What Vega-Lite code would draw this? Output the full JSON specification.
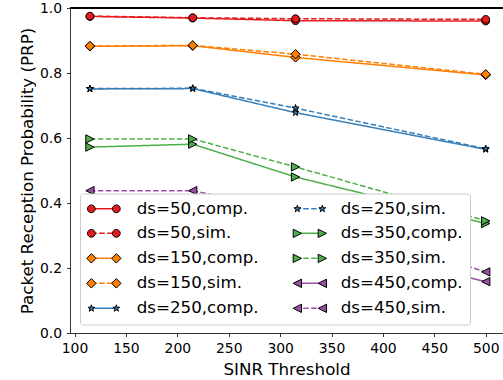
{
  "$schema": "https://vega.github.io/schema/vega-lite/v6.json",
  "width": 433,
  "height": 325,
  "autosize": {"type": "none"},
  "padding": {"left": 70, "top": 8, "right": 0, "bottom": 47},
  "background": "white",
  "config": {
    "view": {"stroke": null},
    "font": "DejaVu Sans",
    "axis": {
      "labelFont": "DejaVu Sans", "labelFontSize": 13.9, "labelColor": "black",
      "titleFont": "DejaVu Sans", "titleFontSize": 16.7, "titleFontWeight": "normal", "titleColor": "black",
      "tickColor": "black", "domainColor": "black", "tickSize": 3.5, "tickWidth": 0.8, "domainWidth": 0.8,
      "grid": false, "labelPadding": 4.9, "labelFlush": false
    }
  },
  "data": {"values": [
    {"series": "ds=50,comp.", "x": 115, "y": 0.974}, {"series": "ds=50,comp.", "x": 215, "y": 0.969}, {"series": "ds=50,comp.", "x": 315, "y": 0.961}, {"series": "ds=50,comp.", "x": 500, "y": 0.960},
    {"series": "ds=50,sim.", "x": 115, "y": 0.975}, {"series": "ds=50,sim.", "x": 215, "y": 0.970}, {"series": "ds=50,sim.", "x": 315, "y": 0.967}, {"series": "ds=50,sim.", "x": 500, "y": 0.965},
    {"series": "ds=150,comp.", "x": 115, "y": 0.882}, {"series": "ds=150,comp.", "x": 215, "y": 0.884}, {"series": "ds=150,comp.", "x": 315, "y": 0.848}, {"series": "ds=150,comp.", "x": 500, "y": 0.794},
    {"series": "ds=150,sim.", "x": 115, "y": 0.883}, {"series": "ds=150,sim.", "x": 215, "y": 0.885}, {"series": "ds=150,sim.", "x": 315, "y": 0.858}, {"series": "ds=150,sim.", "x": 500, "y": 0.796},
    {"series": "ds=250,comp.", "x": 115, "y": 0.751}, {"series": "ds=250,comp.", "x": 215, "y": 0.752}, {"series": "ds=250,comp.", "x": 315, "y": 0.678}, {"series": "ds=250,comp.", "x": 500, "y": 0.565},
    {"series": "ds=250,sim.", "x": 115, "y": 0.752}, {"series": "ds=250,sim.", "x": 215, "y": 0.753}, {"series": "ds=250,sim.", "x": 315, "y": 0.692}, {"series": "ds=250,sim.", "x": 500, "y": 0.567},
    {"series": "ds=350,comp.", "x": 115, "y": 0.572}, {"series": "ds=350,comp.", "x": 215, "y": 0.581}, {"series": "ds=350,comp.", "x": 315, "y": 0.480}, {"series": "ds=350,comp.", "x": 500, "y": 0.337},
    {"series": "ds=350,sim.", "x": 115, "y": 0.597}, {"series": "ds=350,sim.", "x": 215, "y": 0.597}, {"series": "ds=350,sim.", "x": 315, "y": 0.511}, {"series": "ds=350,sim.", "x": 500, "y": 0.345},
    {"series": "ds=450,comp.", "x": 115, "y": 0.405}, {"series": "ds=450,comp.", "x": 215, "y": 0.410}, {"series": "ds=450,comp.", "x": 315, "y": 0.300}, {"series": "ds=450,comp.", "x": 500, "y": 0.158},
    {"series": "ds=450,sim.", "x": 115, "y": 0.438}, {"series": "ds=450,sim.", "x": 215, "y": 0.438}, {"series": "ds=450,sim.", "x": 315, "y": 0.370}, {"series": "ds=450,sim.", "x": 500, "y": 0.188}
  ]},
  "encoding": {
    "x": {"field": "x", "type": "quantitative", "scale": {"domain": [95.6, 516.8], "nice": false, "zero": false},
      "axis": {"values": [100, 150, 200, 250, 300, 350, 400, 450, 500], "format": "d", "title": "SINR Threshold", "titlePadding": 6}},
    "y": {"field": "y", "type": "quantitative", "scale": {"domain": [0, 1], "nice": false, "zero": false},
      "axis": {"values": [0, 0.2, 0.4, 0.6, 0.8, 1.0], "format": ".1f", "title": "Packet Reception Probability (PRP)", "titlePadding": 3}}
  },
  "layer": [
    {
      "mark": {"type": "rule", "color": "black", "strokeWidth": 0.8},
      "encoding": {"y": {"datum": 1}, "x": null}
    },
    {
      "mark": {"type": "line", "strokeWidth": 1.5},
      "encoding": {
        "color": {"field": "series", "type": "nominal",
          "scale": {"domain": ["ds=50,comp.", "ds=50,sim.", "ds=150,comp.", "ds=150,sim.", "ds=250,comp.", "ds=250,sim.", "ds=350,comp.", "ds=350,sim.", "ds=450,comp.", "ds=450,sim."],
                    "range": ["#e41a1c", "#e41a1c", "#ff7f00", "#ff7f00", "#377eb8", "#377eb8", "#4daf4a", "#4daf4a", "#984ea3", "#984ea3"]},
          "legend": {"orient": "none", "legendX": 10, "legendY": 185.5, "columns": 2, "title": null,
            "symbolType": "M-2.5,0L2.5,0", "symbolSize": 100, "symbolStrokeWidth": 1.5, "symbolOffset": 9, "symbolFillColor": "transparent",
            "labelFont": "DejaVu Sans", "labelFontSize": 16.7, "labelColor": "black", "labelOffset": 24.5, "labelLimit": 300,
            "padding": 6.5, "rowPadding": 7, "columnPadding": 31,
            "fillColor": "white", "strokeColor": "#cccccc", "cornerRadius": 3, "symbolLimit": 0}},
        "strokeDash": {"field": "series", "type": "nominal",
          "scale": {"domain": ["ds=50,comp.", "ds=50,sim.", "ds=150,comp.", "ds=150,sim.", "ds=250,comp.", "ds=250,sim.", "ds=350,comp.", "ds=350,sim.", "ds=450,comp.", "ds=450,sim."],
                    "range": [[1, 0], [5.5, 2.4], [1, 0], [5.5, 2.4], [1, 0], [5.5, 2.4], [1, 0], [5.5, 2.4], [1, 0], [5.5, 2.4]]}}
      }
    },
    {
      "mark": {"type": "point", "filled": true, "stroke": "black", "strokeWidth": 1, "size": 64, "opacity": 1},
      "encoding": {
        "fill": {"field": "series", "type": "nominal",
          "sort": ["ds=50,comp.", "ds=50,sim.", "ds=150,comp.", "ds=150,sim.", "ds=250,comp.", "ds=250,sim.", "ds=350,comp.", "ds=350,sim.", "ds=450,comp.", "ds=450,sim."],
          "scale": {"range": ["#e41a1c", "#e41a1c", "#ff7f00", "#ff7f00", "#377eb8", "#377eb8", "#4daf4a", "#4daf4a", "#984ea3", "#984ea3"]},
          "legend": {"orient": "none", "legendX": 10, "legendY": 185.5, "columns": 2, "title": null,
            "symbolSize": 100, "symbolStrokeWidth": 1, "symbolStrokeColor": "black", "symbolOpacity": 1, "symbolOffset": 9,
            "labelFont": "DejaVu Sans", "labelFontSize": 16.7, "labelOpacity": 0, "labelOffset": 24.5, "labelLimit": 300,
            "padding": 6.5, "rowPadding": 7, "columnPadding": 31, "symbolLimit": 0,
            "encode": {"symbols": {"update": {"shape": {"signal": "indexof(datum.value,'=50,')>=0 ? 'M-3.28,0A0.78,0.78,0,1,0,-1.72,0A0.78,0.78,0,1,0,-3.28,0ZM1.72,0A0.78,0.78,0,1,0,3.28,0A0.78,0.78,0,1,0,1.72,0Z' : indexof(datum.value,'=150,')>=0 ? 'M-2.5,-0.94L-1.56,0L-2.5,0.94L-3.44,0ZM2.5,-0.94L3.44,0L2.5,0.94L1.56,0Z' : indexof(datum.value,'=250,')>=0 ? 'M-2.5,-0.72L-2.338,-0.222L-1.815,-0.222L-2.239,0.085L-2.077,0.582L-2.5,0.275L-2.923,0.582L-2.761,0.085L-3.185,-0.222L-2.662,-0.222ZM2.5,-0.72L2.662,-0.222L3.185,-0.222L2.761,0.085L2.923,0.582L2.5,0.275L2.077,0.582L2.239,0.085L1.815,-0.222L2.338,-0.222Z' : indexof(datum.value,'=350,')>=0 ? 'M-1.666,0L-3.334,0.834L-3.334,-0.834ZM3.334,0L1.666,0.834L1.666,-0.834Z' : 'M-3.334,0L-1.666,0.834L-1.666,-0.834ZM1.666,0L3.334,0.834L3.334,-0.834Z'"}}}}}},
        "shape": {"field": "series", "type": "nominal",
          "sort": ["ds=50,comp.", "ds=50,sim.", "ds=150,comp.", "ds=150,sim.", "ds=250,comp.", "ds=250,sim.", "ds=350,comp.", "ds=350,sim.", "ds=450,comp.", "ds=450,sim."],
          "scale": {"range": [
            "M-0.975,0A0.975,0.975,0,1,0,0.975,0A0.975,0.975,0,1,0,-0.975,0Z",
            "M-0.975,0A0.975,0.975,0,1,0,0.975,0A0.975,0.975,0,1,0,-0.975,0Z",
            "M0,-1.175L1.175,0L0,1.175L-1.175,0Z",
            "M0,-1.175L1.175,0L0,1.175L-1.175,0Z",
            "M0,-0.9L0.203,-0.278L0.856,-0.278L0.327,0.106L0.529,0.728L0,0.344L-0.529,0.728L-0.327,0.106L-0.856,-0.278L-0.203,-0.278Z",
            "M0,-0.9L0.203,-0.278L0.856,-0.278L0.327,0.106L0.529,0.728L0,0.344L-0.529,0.728L-0.327,0.106L-0.856,-0.278L-0.203,-0.278Z",
            "M1.04,0L-1.04,1.04L-1.04,-1.04Z",
            "M1.04,0L-1.04,1.04L-1.04,-1.04Z",
            "M-1.04,0L1.04,1.04L1.04,-1.04Z",
            "M-1.04,0L1.04,1.04L1.04,-1.04Z"]}}
      }
    }
  ]
}
